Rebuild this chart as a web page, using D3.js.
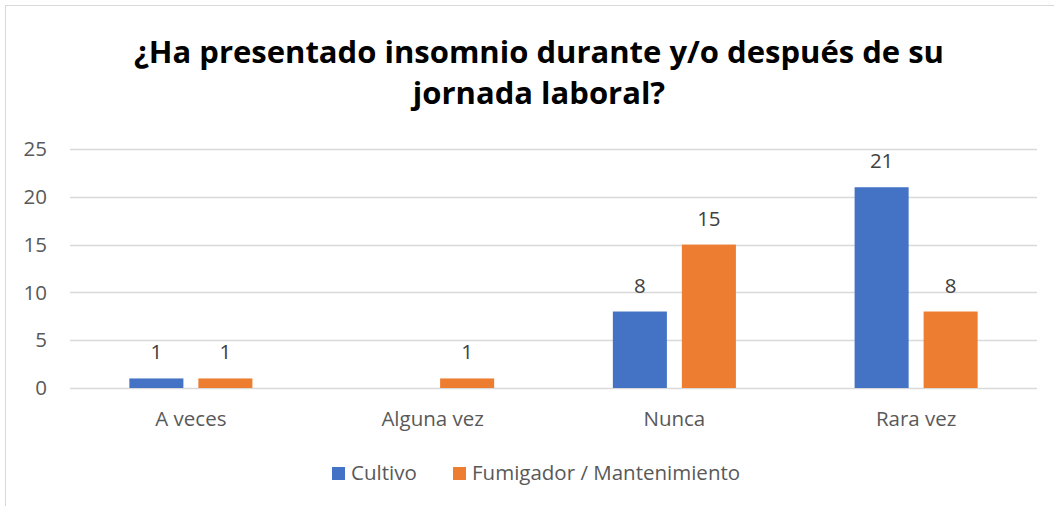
<!DOCTYPE html>
<html>
<head>
<meta charset="utf-8">
<script src="https://cdn.jsdelivr.net/npm/d3@7"></script>
<style>
  body { margin: 0; background: #fff; }
  svg { display: block; font-family: "Open Sans", "Noto Sans", sans-serif; }
</style>
</head>
<body>
<div id="chart"></div>
<script>
"use strict";

// === DATA ===
const categories = ["A veces", "Alguna vez", "Nunca", "Rara vez"];
const seriesNames = ["Cultivo", "Fumigador / Mantenimiento"];
const cultivo = [1, null, 8, 21];
const fumigador = [1, 1, 15, 8];
const yTicks = [0, 5, 10, 15, 20, 25];
const titleLines = ["¿Ha presentado insomnio durante y/o después de su", "jornada laboral?"];

const colors = ["#4472C4", "#ED7D31"];
const seriesValues = [cultivo, fumigador];

// === SVG SETUP ===
const width = 1054, height = 506;
const plot = { left: 70, right: 1037, top: 149, bottom: 388 };
const fs = "20.5px";

const svg = d3.select("#chart")
  .append("svg")
  .attr("width", width)
  .attr("height", height);

// chart border
svg.append("rect")
  .attr("x", 5.5)
  .attr("y", 5.5)
  .attr("width", width + 10)
  .attr("height", height + 10)
  .attr("fill", "#fff")
  .attr("stroke", "#D9D9D9");

// === SCALES ===
const x0 = d3.scaleBand()
  .domain(categories)
  .range([plot.left, plot.right]);

const x1 = d3.scaleBand()
  .domain(seriesNames)
  .range([0, x0.bandwidth()])
  .paddingInner(0.217)
  .paddingOuter(0.86);

const y = d3.scaleLinear()
  .domain([0, 25])
  .range([plot.bottom, plot.top]);

// === GRID + Y LABELS ===
svg.append("g")
  .selectAll("line")
  .data(yTicks)
  .join("line")
  .attr("x1", plot.left)
  .attr("x2", plot.right)
  .attr("y1", d => Math.round(y(d)) + 0.5)
  .attr("y2", d => Math.round(y(d)) + 0.5)
  .attr("stroke", "#D9D9D9")
  .attr("stroke-width", 1.3);

svg.append("g")
  .selectAll("text")
  .data(yTicks)
  .join("text")
  .attr("x", 47)
  .attr("y", d => y(d))
  .attr("dy", "0.35em")
  .attr("text-anchor", "end")
  .attr("font-size", fs)
  .attr("fill", "#595959")
  .text(d => d);

// === BARS ===
const rows = [];
seriesNames.forEach((s, si) => {
  categories.forEach((c, ci) => {
    rows.push({ series: s, cat: c, value: seriesValues[si][ci], color: colors[si] });
  });
});

svg.append("g")
  .selectAll("rect")
  .data(rows.filter(d => d.value != null))
  .join("rect")
  .attr("x", d => x0(d.cat) + x1(d.series))
  .attr("y", d => y(d.value))
  .attr("width", x1.bandwidth())
  .attr("height", d => y(0) - y(d.value))
  .attr("fill", d => d.color);

// data labels
svg.append("g")
  .selectAll("text")
  .data(rows.filter(d => d.value != null))
  .join("text")
  .attr("x", d => x0(d.cat) + x1(d.series) + x1.bandwidth() / 2)
  .attr("y", d => y(d.value) - 19)
  .attr("text-anchor", "middle")
  .attr("font-size", fs)
  .attr("fill", "#404040")
  .text(d => d.value);

// === X LABELS ===
svg.append("g")
  .selectAll("text")
  .data(categories)
  .join("text")
  .attr("x", d => x0(d) + x0.bandwidth() / 2)
  .attr("y", 426)
  .attr("text-anchor", "middle")
  .attr("font-size", fs)
  .attr("fill", "#595959")
  .text(d => d);

// === TITLE ===
svg.append("text")
  .attr("x", 539)
  .attr("y", 63)
  .attr("text-anchor", "middle")
  .attr("font-size", "31px")
  .attr("font-weight", "bold")
  .attr("fill", "#000")
  .selectAll("tspan")
  .data(titleLines)
  .join("tspan")
  .attr("x", 539)
  .attr("dy", (d, i) => i === 0 ? 0 : 41)
  .text(d => d);

// === LEGEND ===
const legendX = [332, 453];
const legend = svg.append("g");
seriesNames.forEach((s, i) => {
  legend.append("rect")
    .attr("x", legendX[i])
    .attr("y", 467)
    .attr("width", 13)
    .attr("height", 13)
    .attr("fill", colors[i]);
  legend.append("text")
    .attr("x", legendX[i] + 19)
    .attr("y", 480)
    .attr("font-size", fs)
    .attr("fill", "#595959")
    .text(s);
});
</script>
</body>
</html>
